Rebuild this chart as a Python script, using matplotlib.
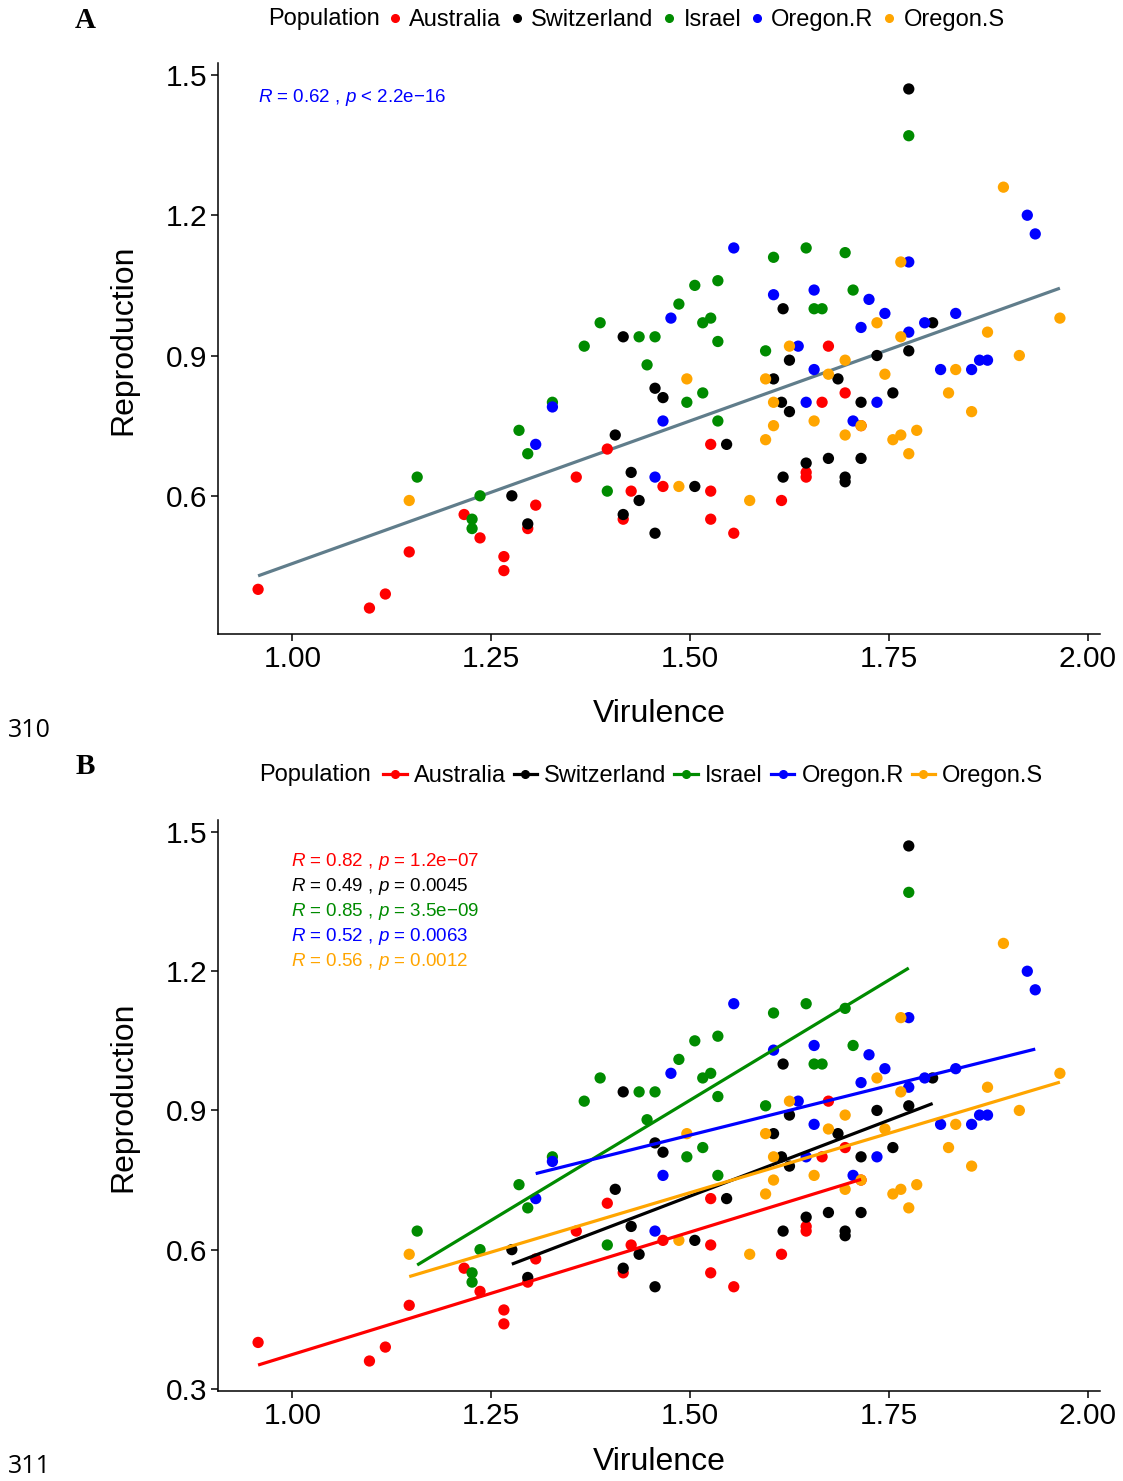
import numpy as np
import matplotlib
matplotlib.use("Agg")
import matplotlib.pyplot as plt
from matplotlib.lines import Line2D

plt.rcParams['font.family'] = ['Liberation Sans', 'DejaVu Sans']
plt.rcParams['mathtext.fontset'] = 'custom'
plt.rcParams['mathtext.rm'] = 'Liberation Sans'
plt.rcParams['mathtext.it'] = 'Liberation Sans:italic'

# ---------------- data ----------------
populations = ["Australia", "Switzerland", "Israel", "Oregon.R", "Oregon.S"]
pop_colors = ["#FF0000", "#000000", "#008B00", "#0000FF", "#FFA500"]

aus_vir = [0.957, 1.097, 1.117, 1.147, 1.216, 1.236, 1.266, 1.266, 1.296, 1.306,
           1.357, 1.396, 1.416, 1.426, 1.466, 1.526, 1.526, 1.526, 1.555, 1.615,
           1.646, 1.646, 1.666, 1.674, 1.695, 1.715]
aus_rep = [0.40, 0.36, 0.39, 0.48, 0.56, 0.51, 0.47, 0.44, 0.53, 0.58,
           0.64, 0.70, 0.55, 0.61, 0.62, 0.71, 0.61, 0.55, 0.52, 0.59,
           0.65, 0.64, 0.80, 0.92, 0.82, 0.75]

swi_vir = [1.775, 1.276, 1.296, 1.406, 1.416, 1.416, 1.426, 1.436, 1.456, 1.466,
           1.456, 1.506, 1.546, 1.605, 1.617, 1.615, 1.625, 1.625, 1.617, 1.646,
           1.674, 1.686, 1.695, 1.695, 1.715, 1.715, 1.735, 1.755, 1.775, 1.805]
swi_rep = [1.47, 0.60, 0.54, 0.73, 0.94, 0.56, 0.65, 0.59, 0.83, 0.81,
           0.52, 0.62, 0.71, 0.85, 1.00, 0.80, 0.89, 0.78, 0.64, 0.67,
           0.68, 0.85, 0.64, 0.63, 0.80, 0.68, 0.90, 0.82, 0.91, 0.97]

isr_vir = [1.157, 1.226, 1.226, 1.236, 1.285, 1.296, 1.327, 1.367, 1.387, 1.396,
           1.436, 1.446, 1.456, 1.486, 1.496, 1.506, 1.516, 1.516, 1.526, 1.535,
           1.535, 1.535, 1.595, 1.605, 1.646, 1.656, 1.666, 1.695, 1.705, 1.775]
isr_rep = [0.64, 0.55, 0.53, 0.60, 0.74, 0.69, 0.80, 0.92, 0.97, 0.61,
           0.94, 0.88, 0.94, 1.01, 0.80, 1.05, 0.82, 0.97, 0.98, 1.06,
           0.93, 0.76, 0.91, 1.11, 1.13, 1.00, 1.00, 1.12, 1.04, 1.37]

orr_vir = [1.306, 1.327, 1.456, 1.466, 1.476, 1.555, 1.605, 1.636, 1.646, 1.656,
           1.656, 1.715, 1.705, 1.725, 1.735, 1.745, 1.775, 1.775, 1.795, 1.815,
           1.834, 1.854, 1.864, 1.874, 1.924, 1.934]
orr_rep = [0.71, 0.79, 0.64, 0.76, 0.98, 1.13, 1.03, 0.92, 0.80, 0.87,
           1.04, 0.96, 0.76, 1.02, 0.80, 0.99, 1.10, 0.95, 0.97, 0.87,
           0.99, 0.87, 0.89, 0.89, 1.20, 1.16]

ors_vir = [1.147, 1.496, 1.486, 1.575, 1.595, 1.595, 1.605, 1.605, 1.625, 1.656,
           1.674, 1.695, 1.695, 1.715, 1.735, 1.745, 1.755, 1.765, 1.765, 1.765,
           1.775, 1.785, 1.825, 1.834, 1.854, 1.874, 1.914, 1.894, 1.965]
ors_rep = [0.59, 0.85, 0.62, 0.59, 0.85, 0.72, 0.80, 0.75, 0.92, 0.76,
           0.86, 0.89, 0.73, 0.75, 0.97, 0.86, 0.72, 0.73, 0.94, 1.10,
           0.69, 0.74, 0.82, 0.87, 0.78, 0.95, 0.90, 1.26, 0.98]

all_stat_label = r"$R$ = 0.62 , $p$ < 2.2e−16"
group_stat_labels = [r"$R$ = 0.82 , $p$ = 1.2e−07",
                     r"$R$ = 0.49 , $p$ = 0.0045",
                     r"$R$ = 0.85 , $p$ = 3.5e−09",
                     r"$R$ = 0.52 , $p$ = 0.0063",
                     r"$R$ = 0.56 , $p$ = 0.0012"]

x_ticks = [1.00, 1.25, 1.50, 1.75, 2.00]
y_ticks = [0.3, 0.6, 0.9, 1.2, 1.5]

groups_vir = [aus_vir, swi_vir, isr_vir, orr_vir, ors_vir]
groups_rep = [aus_rep, swi_rep, isr_rep, orr_rep, ors_rep]

# ---------------- layout ----------------
W, H = 1123, 1481
fig = plt.figure(figsize=(W / 100, H / 100), dpi=100)


def rect(l, t, r, b):
    return [l / W, 1 - b / H, (r - l) / W, (b - t) / H]


axA = fig.add_axes(rect(218, 63, 1100, 634))
axB = fig.add_axes(rect(218, 820, 1100, 1391))

all_vir = np.concatenate([np.asarray(v) for v in groups_vir])
all_rep = np.concatenate([np.asarray(r) for r in groups_rep])


def expand(lo, hi, f=0.05):
    d = hi - lo
    return lo - f * d, hi + f * d


def style(ax, xlim, ylim, xlab_px, ylab_shift):
    for s in ["top", "right"]:
        ax.spines[s].set_visible(False)
    for s in ["left", "bottom"]:
        ax.spines[s].set_linewidth(1.1)
        ax.spines[s].set_color("black")
    ax.set_xticks(x_ticks)
    ax.set_xticklabels([f"{t:.2f}" for t in x_ticks])
    ax.set_yticks(y_ticks)
    ax.set_yticklabels([f"{t:.1f}" for t in y_ticks])
    ax.set_xlim(*xlim)
    ax.set_ylim(*ylim)
    ax.tick_params(direction="out", length=5, width=1.1, labelsize=21.5,
                   pad=3, colors="black")
    ax.set_xlabel("Virulence", fontsize=23, va="center")
    ax.set_ylabel("Reproduction", fontsize=23, va="center")
    ax.xaxis.set_label_coords(0.5, -xlab_px / 571)
    ax.yaxis.set_label_coords(-(218 - 123) / 882, 0.5 + ylab_shift / 571)


# ---------- Panel A ----------
for v, r, c in zip(groups_vir, groups_rep, pop_colors):
    axA.scatter(v, r, s=66, color=c, edgecolors="none", zorder=3)
slope, icpt = np.polyfit(all_vir, all_rep, 1)
xs = np.array([all_vir.min(), all_vir.max()])
axA.plot(xs, slope * xs + icpt, color="#607D8B", lw=2.3, zorder=2,
         solid_capstyle="butt")
style(axA, expand(all_vir.min(), all_vir.max()),
      expand(all_rep.min(), all_rep.max()), 714 - 634, 9)
axA.text((258 - 218) / 882, (634 - 98) / 571, all_stat_label, color="#0000FF",
         fontsize=13.5, transform=axA.transAxes, ha="left", va="center")

# ---------- Panel B ----------
line_ends = []
for v, r, c in zip(groups_vir, groups_rep, pop_colors):
    axB.scatter(v, r, s=66, color=c, edgecolors="none", zorder=3)
for v, r, c in zip(groups_vir, groups_rep, pop_colors):
    v = np.asarray(v)
    r = np.asarray(r)
    b1, b0 = np.polyfit(v, r, 1)
    xx = np.array([v.min(), v.max()])
    yy = b1 * xx + b0
    line_ends.extend(yy.tolist())
    axB.plot(xx, yy, color=c, lw=2.3, zorder=4, solid_capstyle="butt")
ylo = min(all_rep.min(), min(line_ends))
yhi = max(all_rep.max(), max(line_ends))
style(axB, expand(all_vir.min(), all_vir.max()), expand(ylo, yhi),
      1462 - 1391, 9)
for i, (lab, c) in enumerate(zip(group_stat_labels, pop_colors)):
    ypx = 861 + 25 * i
    axB.text((291 - 218) / 882, (1391 - ypx) / 571, lab, color=c,
             fontsize=13.5, transform=axB.transAxes, ha="left", va="center")

# ---------- legends ----------
fig.text(268 / W, 1 - 19 / H, "Population", fontsize=17, ha="left", va="center")
hA = [Line2D([], [], ls="none", marker="o", color=c, markersize=5.5)
      for c in pop_colors]
fig.legend(hA, populations, loc="center left", bbox_to_anchor=(389 / W, 1 - 20 / H),
           ncol=5, frameon=False, fontsize=17, handlelength=0.5,
           handletextpad=0.35, columnspacing=0.42, borderpad=0, borderaxespad=0)

fig.text(259 / W, 1 - 775 / H, "Population", fontsize=17, ha="left", va="center")
hB = [Line2D([], [], color=c, lw=2.3, marker="o", markersize=5.5)
      for c in pop_colors]
fig.legend(hB, populations, loc="center left", bbox_to_anchor=(383 / W, 1 - 776 / H),
           ncol=5, frameon=False, fontsize=17, handlelength=1.0,
           handletextpad=0.3, columnspacing=0.33, borderpad=0, borderaxespad=0)

# ---------- panel letters & line numbers ----------
fig.text(85 / W, 1 - 21 / H, "A", family="Liberation Serif", fontweight="bold",
         fontsize=21, ha="center", va="center")
fig.text(85 / W, 1 - 766 / H, "B", family="Liberation Serif", fontweight="bold",
         fontsize=21, ha="center", va="center")
fig.text(8 / W, 1 - 730 / H, "310", family="Open Sans", fontsize=18,
         ha="left", va="center")
fig.text(8 / W, 1 - 1473 / H, "311", family="Open Sans", fontsize=18,
         ha="left", va="baseline")

fig.savefig("out.png", dpi=100, facecolor="white")
